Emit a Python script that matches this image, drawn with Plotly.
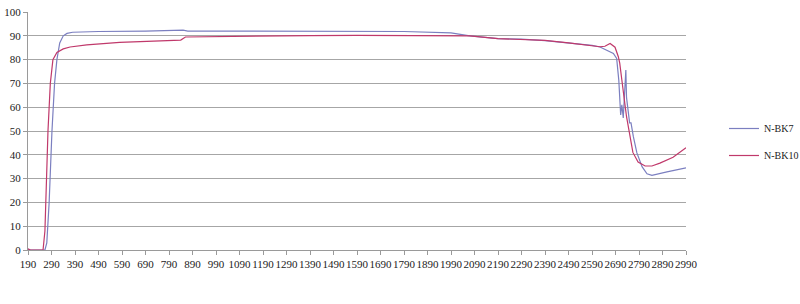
import plotly.graph_objects as go

# N-BK7 transmittance (%) vs wavelength (nm)
bk7_nm = [190, 200, 250, 262, 270, 280, 292, 303, 313, 325, 340, 356, 380, 490, 690, 830, 850, 870,
          1000, 1290, 1370, 1390, 1410, 1590, 1790, 1990, 2070, 2190, 2290, 2390, 2490, 2590, 2624,
          2681, 2695, 2704, 2712, 2717, 2723, 2729, 2734, 2737, 2743, 2750, 2756, 2766, 2781, 2803,
          2824, 2845, 2909, 2990]
bk7_t = [0.3, 0, 0, 0, 3, 20, 50, 70, 80, 87, 90, 91, 91.5, 91.8, 92.0, 92.1, 92.4, 92.0,
         92.0, 92.0, 92.0, 91.7, 92.0, 92.0, 91.8, 91.2, 90.0, 88.8, 88.6, 88.0, 87.0, 86.0, 85.3,
         82.6, 80.5, 71.4, 56.7, 61.0, 55.5, 64.4, 75.6, 64.0, 59.7, 53.4, 53.4, 47.6, 40.8, 35.0,
         32.0, 31.4, 32.8, 34.5]

# N-BK10 transmittance (%) vs wavelength (nm)
bk10_nm = [190, 200, 245, 254, 262, 268, 275, 285, 296, 313, 340, 369, 440, 580, 700, 794, 840, 860,
           990, 1190, 1390, 1590, 1790, 1990, 2070, 2190, 2290, 2390, 2490, 2590, 2624, 2645, 2667,
           2688, 2702, 2708, 2716, 2726, 2737, 2752, 2764, 2786, 2816, 2845, 2879, 2935, 2990]
bk10_t = [0.5, 0, 0, 0, 8, 30, 50, 70, 80, 83, 84.5, 85.3, 86.2, 87.2, 87.6, 88.0, 88.2, 89.5,
          89.7, 89.9, 90.1, 90.2, 90.1, 90.0, 90.0, 88.8, 88.6, 88.1, 87.0, 85.9, 85.4, 85.6, 86.8,
          85.2, 81.2, 78.5, 71.4, 64.4, 56.0, 47.6, 41.0, 37.0, 35.3, 35.3, 36.5, 39.0, 43.0]

x_ticks = list(range(190, 2991, 100))
y_ticks = list(range(0, 101, 10))

font_family = "Liberation Serif"

fig = go.Figure()
fig.add_trace(go.Scatter(x=bk7_nm, y=bk7_t, mode="lines", name="N-BK7", legendgroup="a",
                         line=dict(color="#7b7fc0", width=1.2)))
fig.add_trace(go.Scatter(x=bk10_nm, y=bk10_t, mode="lines", name="N-BK10", legendgroup="b",
                         line=dict(color="#c0396b", width=1.2)))

fig.update_layout(
    width=800, height=304,
    margin=dict(l=28, r=114, t=12, b=54, autoexpand=False),
    paper_bgcolor="white", plot_bgcolor="white",
    font=dict(family=font_family, size=11, color="#222222"),
    showlegend=True,
    legend=dict(xref="container", yref="container", x=0.905, y=1 - 142 / 304,
                xanchor="left", yanchor="middle",
                font=dict(family=font_family, size=10, color="#222222"),
                tracegroupgap=8, itemwidth=30, bgcolor="rgba(0,0,0,0)"),
    xaxis=dict(range=[190, 2990], tickmode="array", tickvals=x_ticks,
               ticktext=[str(v) for v in x_ticks], tickangle=0, showgrid=False, zeroline=False,
               showline=True, linecolor="#9a9a9a", linewidth=1,
               ticks="outside", ticklen=4, tickcolor="#9a9a9a",
               tickfont=dict(family=font_family, size=11, color="#222222")),
    yaxis=dict(range=[0, 100], tickmode="array", tickvals=y_ticks,
               showgrid=True, gridcolor="#a6a6a6", gridwidth=1, zeroline=False,
               showline=True, linecolor="#9a9a9a", linewidth=1,
               ticks="outside", ticklen=4, tickcolor="#9a9a9a",
               tickfont=dict(family=font_family, size=11, color="#222222")),
)

fig.write_html("out.html")
